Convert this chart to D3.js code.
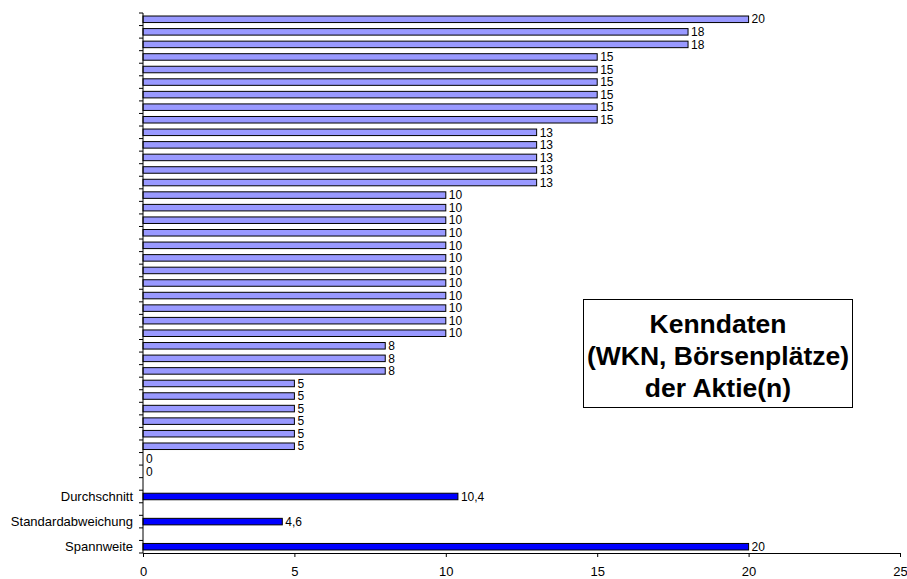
<!DOCTYPE html>
<html>
<head>
<meta charset="utf-8">
<script src="https://cdn.jsdelivr.net/npm/d3@7"></script>
<style>
  html, body { margin: 0; padding: 0; background: #fff; }
  svg { display: block; font-family: "Liberation Sans", Arial, sans-serif; }
</style>
</head>
<body>
<svg id="chart" width="907" height="579"></svg>
<script>
// Anzahl der Börsenplätze je Aktie (sortiert)
const values = [20, 18, 18, 15, 15, 15, 15, 15, 15, 13, 13, 13, 13, 13,
                10, 10, 10, 10, 10, 10, 10, 10, 10, 10, 10, 10,
                8, 8, 8, 5, 5, 5, 5, 5, 5, 0, 0];
// Kennzahlen
const statLabels = ["Durchschnitt", "Standardabweichung", "Spannweite"];
const statValues = [10.4, 4.6, 20];
const xTicks = [0, 5, 10, 15, 20, 25];
const boxLines = ["Kenndaten", "(WKN, Börsenplätze)", "der Aktie(n)"];

const svg = d3.select("#chart");
const margin = { left: 143, right: 7, top: 13, bottom: 26 };
const W = 907, H = 579;

// rows: individual values, then each statistic preceded by an empty row
const rows = values.map((v, i) => ({ id: "v" + i, label: "", value: v, stat: false }));
statLabels.forEach((s, i) => {
  rows.push({ id: "gap" + i, label: "", value: null, stat: false });
  rows.push({ id: "s" + i, label: s, value: statValues[i], stat: true });
});

const x = d3.scaleLinear().domain([0, 25]).range([margin.left, W - margin.right]);
const y = d3.scaleBand()
  .domain(rows.map(r => r.id))
  .range([margin.top, H - margin.bottom])
  .paddingInner(0.48)
  .paddingOuter(0.24);

const de = d3.formatLocale({ decimal: ",", thousands: ".", grouping: [3], currency: ["", " €"] });
const fmt = v => Number.isInteger(v) ? String(v) : de.format(".1f")(v);

// bars
svg.append("g").selectAll("rect")
  .data(rows.filter(r => r.value !== null && r.value > 0))
  .join("rect")
  .attr("x", x(0))
  .attr("y", d => y(d.id))
  .attr("width", d => x(d.value) - x(0))
  .attr("height", y.bandwidth())
  .attr("fill", d => d.stat ? "#0000FF" : "#9999FF")
  .attr("stroke", "#000")
  .attr("stroke-width", 1);

// value labels
svg.append("g").selectAll("text")
  .data(rows.filter(r => r.value !== null))
  .join("text")
  .attr("x", d => x(d.value) + 3)
  .attr("y", d => y(d.id) + y.bandwidth() / 2)
  .attr("dy", "0.35em")
  .attr("font-size", 12)
  .attr("fill", "#000")
  .text(d => fmt(d.value));

// y axis: line, ticks at row boundaries, category labels
const yAxis = svg.append("g");
const step = y.step();
const y0 = margin.top;
const bounds = d3.range(rows.length + 1).map(i => y0 + i * step);
yAxis.append("line")
  .attr("x1", x(0)).attr("x2", x(0))
  .attr("y1", y0).attr("y2", H - margin.bottom)
  .attr("stroke", "#000");
yAxis.selectAll("line.tick")
  .data(bounds)
  .join("line")
  .attr("class", "tick")
  .attr("x1", x(0) - 4).attr("x2", x(0))
  .attr("y1", d => d).attr("y2", d => d)
  .attr("stroke", "#000");
yAxis.selectAll("text")
  .data(rows.filter(r => r.label))
  .join("text")
  .attr("x", x(0) - 10)
  .attr("y", d => y(d.id) + y.bandwidth() / 2)
  .attr("dy", "0.35em")
  .attr("text-anchor", "end")
  .attr("font-size", 13)
  .text(d => d.label);

// x axis
const xAxis = svg.append("g")
  .attr("transform", `translate(0,${H - margin.bottom})`)
  .call(d3.axisBottom(x).tickValues(xTicks).tickSize(4).tickSizeOuter(0).tickPadding(10).tickFormat(d => d));
xAxis.select(".domain").attr("stroke", "#000");
xAxis.selectAll(".tick line").attr("stroke", "#000");
xAxis.selectAll(".tick text")
  .attr("font-size", 13)
  .attr("font-family", "Liberation Sans, Arial, sans-serif")
  .attr("fill", "#000");

// title box
const box = { x: 583, y: 299, w: 269, h: 108 };
svg.append("rect")
  .attr("x", box.x + 0.5).attr("y", box.y + 0.5)
  .attr("width", box.w).attr("height", box.h)
  .attr("fill", "#fff").attr("stroke", "#000");
svg.append("g").selectAll("text")
  .data(boxLines)
  .join("text")
  .attr("x", box.x + box.w / 2 + 0.5)
  .attr("y", (d, i) => 333 + i * 31.8)
  .attr("text-anchor", "middle")
  .attr("font-size", 26.5)
  .attr("font-weight", "bold")
  .text(d => d);
</script>
</body>
</html>
